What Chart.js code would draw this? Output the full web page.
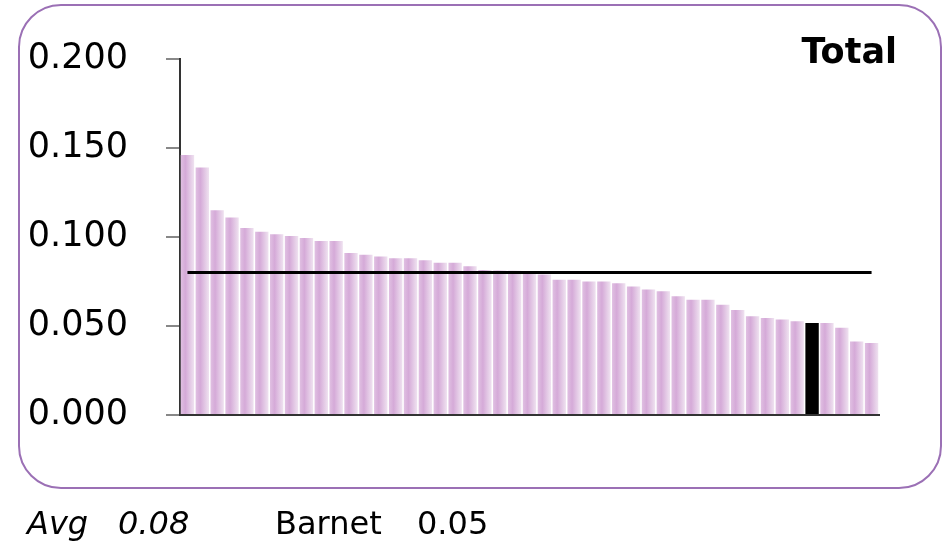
<!DOCTYPE html>
<html>
<head>
<meta charset="utf-8">
<script src="https://cdn.jsdelivr.net/npm/chart.js@4.4.1/dist/chart.umd.min.js"></script>
<style>
html, body { margin: 0; padding: 0; background: #fff; }
canvas { display: block; }
</style>
</head>
<body>
<canvas id="chart" width="943" height="543"></canvas>
<script>
// values, sorted high to low
var values = [
    0.146, 0.139, 0.115, 0.111, 0.105, 0.103, 0.1015, 0.1005, 0.0995, 0.0977,
    0.0977, 0.091, 0.090, 0.089, 0.088, 0.088, 0.087, 0.0855, 0.0855, 0.0835,
    0.0815, 0.0812, 0.081, 0.0805, 0.079, 0.076, 0.076, 0.075, 0.075, 0.074,
    0.0722, 0.0705, 0.0695, 0.0667, 0.0648, 0.0648, 0.062, 0.059, 0.0555, 0.0545,
    0.0536, 0.0526, 0.0517, 0.0517, 0.049, 0.0413, 0.0404
];
var categories = values.map(function (v, i) { return String(i + 1); });
var highlightIndex = 42;
var highlightName = 'Barnet';
var avgValue = 0.08;
var yTicks = [0, 0.05, 0.1, 0.15, 0.2];
var title = 'Total';

var fontFamily = '"DejaVu Sans", Verdana, sans-serif';
var barPct = 0.9;

function barColor(c) {
    if (c.dataIndex === highlightIndex) return '#000';
    var chart = c.chart;
    var area = chart.chartArea;
    if (!area) return '#dcb8de';
    var x = chart.scales.x.getPixelForValue(c.dataIndex);
    var w = area.width / values.length * barPct;
    var g = chart.ctx.createLinearGradient(x - w / 2, 0, x + w / 2, 0);
    g.addColorStop(0, '#e0c0e2');
    g.addColorStop(0.35, '#d5aad8');
    g.addColorStop(1, '#efe2f0');
    return g;
}

var frame = {
    id: 'frame',
    beforeDraw: function (chart) {
        var ctx = chart.ctx;
        ctx.save();
        ctx.strokeStyle = '#9b70b5';
        ctx.lineWidth = 2;
        ctx.beginPath();
        ctx.roundRect(19, 5, 922, 483, 42);
        ctx.stroke();
        ctx.restore();
    },
    afterDraw: function (chart) {
        var ctx = chart.ctx;
        ctx.save();
        ctx.fillStyle = '#000';
        ctx.textBaseline = 'alphabetic';
        ctx.font = 'bold 35px ' + fontFamily;
        ctx.textAlign = 'right';
        ctx.fillText(title, 897, 63);
        ctx.textAlign = 'left';
        ctx.font = 'italic 32px ' + fontFamily;
        ctx.fillText('Avg', 27, 534);
        ctx.fillText(avgValue.toFixed(2), 118, 534);
        ctx.font = '32px ' + fontFamily;
        ctx.fillText(highlightName, 275, 534);
        ctx.fillText(values[highlightIndex].toFixed(2), 417, 534);
        ctx.restore();
    }
};

new Chart(document.getElementById('chart'), {
    type: 'bar',
    data: {
        labels: categories,
        datasets: [{
            type: 'line',
            data: [
                { x: categories[0], y: avgValue },
                { x: categories[categories.length - 1], y: avgValue }
            ],
            borderColor: '#000',
            borderWidth: 3,
            pointRadius: 0,
            order: 0
        }, {
            data: values,
            backgroundColor: barColor,
            barPercentage: barPct,
            categoryPercentage: 1,
            order: 1
        }]
    },
    options: {
        responsive: false,
        animation: false,
        layout: { padding: { left: 0, top: 58, right: 64, bottom: 128 } },
        plugins: {
            legend: { display: false },
            tooltip: { enabled: false }
        },
        scales: {
            x: {
                grid: { display: false },
                ticks: { display: false },
                border: { display: true, color: '#333', width: 2 },
                afterFit: function (s) { s.height = 0; }
            },
            y: {
                min: 0,
                max: 0.2,
                afterBuildTicks: function (s) {
                    s.ticks = yTicks.map(function (v) { return { value: v }; });
                },
                ticks: {
                    callback: function (v) { return v.toFixed(3); },
                    font: { family: fontFamily, size: 35 },
                    color: '#000',
                    padding: 38
                },
                grid: { drawOnChartArea: false, tickLength: 14, color: '#888', lineWidth: 2 },
                border: { color: '#333', width: 2 },
                afterFit: function (s) { s.width = 180; }
            }
        }
    },
    plugins: [frame]
});
</script>
</body>
</html>
